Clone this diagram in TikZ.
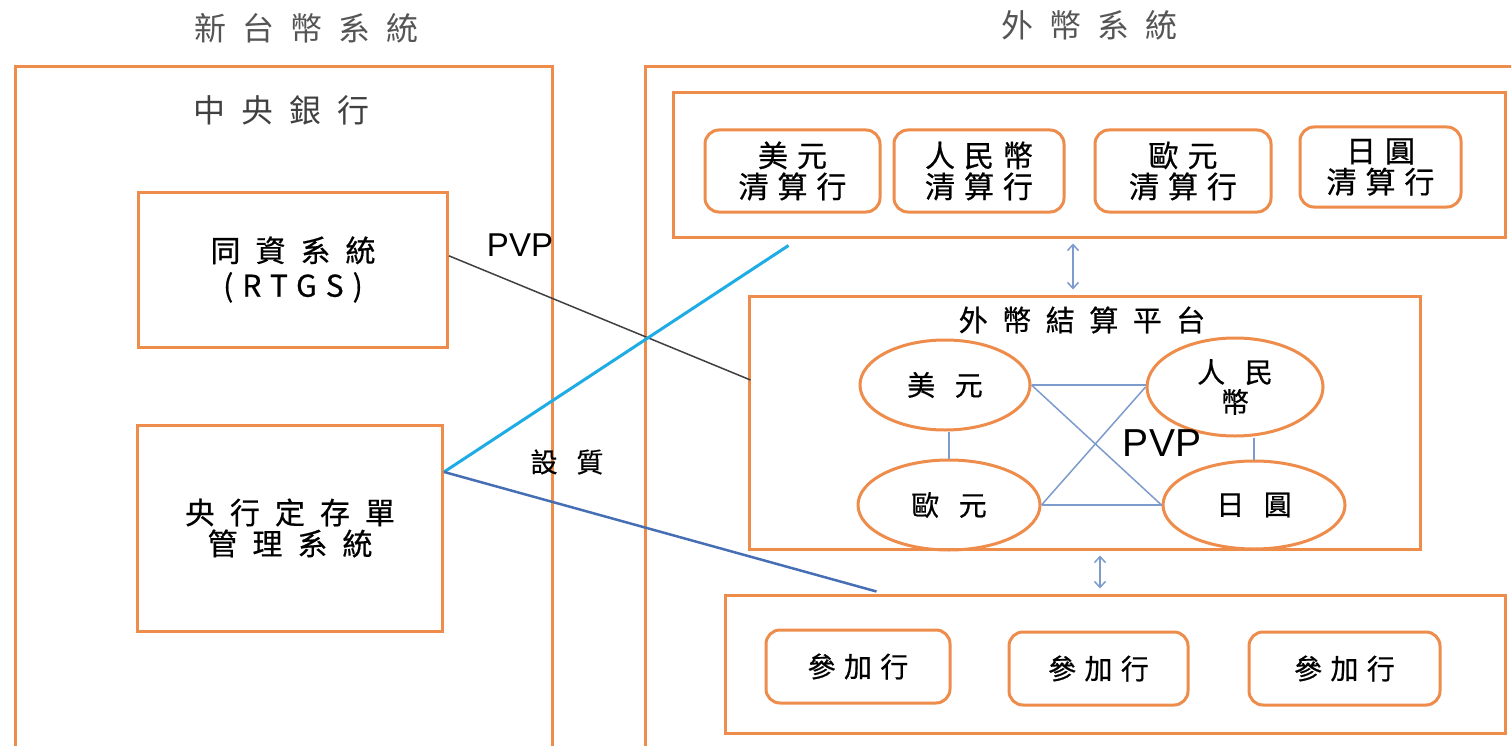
\documentclass[tikz,border=0pt]{standalone}
\usepackage{fontspec}
\setmainfont{Liberation Sans}
\newfontfamily\cjk[LetterSpace=30,FakeBold=0.6]{Noto Sans CJK TC}
\newfontfamily\cjkwide[LetterSpace=50,FakeBold=0.6]{Noto Sans CJK TC}
\newfontfamily\cjkloose[LetterSpace=70,FakeBold=0.6]{Noto Sans CJK TC}
\newfontfamily\cjktitle[LetterSpace=50]{Noto Sans CJK TC}
\usepackage{xcolor}
\usepackage{tikz}
\usetikzlibrary{shapes.geometric, arrows.meta, positioning, calc}

\definecolor{boxorange}{RGB}{238,140,75}
\definecolor{titlegray}{RGB}{85,85,85}
\definecolor{linkblue}{RGB}{125,155,205}
\definecolor{pledgecyan}{RGB}{30,172,228}
\definecolor{pledgeblue}{RGB}{70,110,180}

\begin{document}
\begin{tikzpicture}[
        x=1pt, y=-1pt,
        sysbox/.style={rectangle, draw=boxorange, line width=3pt, inner sep=0pt, align=center, font=\cjkwide\fontsize{30}{35}\selectfont},
        bankbox/.style={rectangle, draw=boxorange, line width=3pt, rounded corners=14pt, inner sep=0pt, align=center, font=\cjk\fontsize{30}{31}\selectfont},
        ccy/.style={ellipse, draw=boxorange, line width=3pt, inner sep=0pt, align=center, font=\cjkloose\fontsize{28}{30}\selectfont},
        heading/.style={font=\cjktitle\fontsize{32}{34}\selectfont, text=titlegray},
        link/.style={draw=linkblue, line width=1.5pt},
        dblarrow/.style={{Straight Barb[length=6pt,width=11pt]}-{Straight Barb[length=6pt,width=11pt]}, draw=linkblue, line width=1.5pt, shorten <=5pt, shorten >=5pt}
    ]
        \useasboundingbox (0,0) rectangle (1511,746);
        \fill[white] (0,0) rectangle (1511,746);

        % Headings
        \node[heading] (twdtitle) at (306,28) {新台幣系統};
        \node[heading] (fxtitle) at (1089,25) {外幣系統};

        % TWD side
        \node[sysbox, minimum width=537pt, minimum height=703pt] (twd) at (283.5,418.5) {};
        \node[heading, text=black!75] (cbc) at (281,110) {中央銀行};
        \node[sysbox, minimum width=309pt, minimum height=155pt] (rtgs) at (293,269.5) {同資系統\\{\cjk (RTGS)}};
        \node[sysbox, minimum width=305pt, minimum height=206pt, font=\cjkwide\fontsize{30}{31}\selectfont] (cds) at (290,528) {央行定存單\\管理系統};

        % FX side
        \node[sysbox, minimum width=895pt, minimum height=703pt] (fx) at (1092.5,418.5) {};
        \node[sysbox, minimum width=832pt, minimum height=144pt] (clear) at (1089,165) {};
        \node[bankbox, minimum width=175pt, minimum height=82pt] (usdclr) at (792.5,171) {美元\\清算行};
        \node[bankbox, minimum width=170pt, minimum height=82pt] (cnyclr) at (979,171) {人民幣\\清算行};
        \node[bankbox, minimum width=176pt, minimum height=82pt] (eurclr) at (1183,171) {歐元\\清算行};
        \node[bankbox, minimum width=161pt, minimum height=80pt] (jpyclr) at (1380.5,167) {日圓\\清算行};

        \node[sysbox, minimum width=671pt, minimum height=253pt] (plat) at (1084.5,422.5) {};
        \node[font=\cjkwide\fontsize{29}{30}\selectfont] (plattitle) at (1082,320) {外幣結算平台};
        \node[ccy, minimum width=170pt, minimum height=90pt] (usd) at (945,385) {美元};
        \node[ccy, minimum width=176pt, minimum height=98pt] (cny) at (1235,387) {人民\\幣};
        \node[ccy, minimum width=182pt, minimum height=90pt] (eur) at (949,505) {歐元};
        \node[ccy, minimum width=182pt, minimum height=88pt] (jpy) at (1254,505) {日圓};
        \node[font=\fontsize{39}{42}\selectfont] (pvpmid) at (1162,443) {PVP};

        \node[sysbox, minimum width=780pt, minimum height=138pt] (part) at (1115,664) {};
        \node[bankbox, minimum width=184pt, minimum height=73pt, font=\cjk\fontsize{28}{30}\selectfont] (part1) at (858,666.5) {參加行};
        \node[bankbox, minimum width=179pt, minimum height=73pt, font=\cjk\fontsize{28}{30}\selectfont] (part2) at (1098.5,668.5) {參加行};
        \node[bankbox, minimum width=191pt, minimum height=73pt, font=\cjk\fontsize{28}{30}\selectfont] (part3) at (1344.5,668.5) {參加行};

        % Labels
        \node[font=\fontsize{33}{36}\selectfont] (pvptop) at (520,245) {PVP};
        \node[font=\cjkloose\fontsize{27}{30}\selectfont] (pledge) at (567,462) {設質};

        % Links
        \draw[black!75, line width=1.5pt] (rtgs.5) -- ($(plat.west)+(3,-42.5)$);
        \draw[pledgecyan, line width=3pt] (cds.20) -- ($(clear.south west)+(117,7)$);
        \draw[pledgeblue, line width=2.5pt] (cds.20) -- ($(part.north west)+(153,-2)$);

        \draw[link] (usd.east) -- (usd.east -| cny.west);
        \draw[link] (usd.east) -- (jpy.west);
        \draw[link] (eur.east) -- (cny.west);
        \draw[link] (eur.east) -- (jpy.west);
        \draw[link] (usd.south -| eur.north) -- (eur.north);
        \draw[link] (cny.south -| jpy.north) -- (jpy.north);

        % Arrows
        \coordinate (upfoot) at ($(plat.north)+(-11.5,0)$);
        \coordinate (downhead) at ($(plat.south)+(15.5,0)$);
        \draw[dblarrow] (upfoot) -- (upfoot |- clear.south);
        \draw[dblarrow] (downhead) -- (downhead |- part.north);
    \end{tikzpicture}
\end{document}
